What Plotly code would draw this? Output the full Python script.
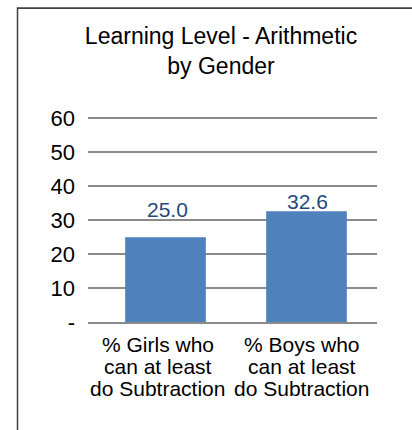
import plotly.graph_objects as go

# ---- data ----
categories = ["% Girls who<br>can at least<br>do Subtraction",
              "% Boys who<br>can at least<br>do Subtraction"]
values = [25.0, 32.6]
y_tick_vals = [0, 10, 20, 30, 40, 50, 60]
y_tick_text = ["-", "10", "20", "30", "40", "50", "60"]
title_text = "Learning Level - Arithmetic<br>by Gender"

# ---- style ----
FONT = "Liberation Sans, Arial, sans-serif"
BAR_COLOR = "#4F81BD"
LABEL_COLOR = "#1F497D"
GRID_COLOR = "#8A8A8A"
BORDER_COLOR = "#404040"
label_shifts = [28, 10]     # vertical offset (px) of each value label above its bar
label_xshifts = [2, 1]      # horizontal nudge of value labels
cat_xshifts = [-8, -5]      # horizontal nudge of category labels

fig = go.Figure()
fig.add_trace(go.Bar(
    x=categories, y=values,
    marker=dict(color=BAR_COLOR, line=dict(width=0)),
    hoverinfo="skip",
))

annotations = []
# value labels
for c, v, s, xs in zip(categories, values, label_shifts, label_xshifts):
    annotations.append(dict(
        x=c, y=v, xref="x", yref="y", text=f"{v:.1f}", showarrow=False,
        yanchor="middle", yshift=s, xshift=xs,
        font=dict(family=FONT, size=21, color=LABEL_COLOR)))
# category labels, one annotation per line for tight line spacing
for c, xs in zip(categories, cat_xshifts):
    for i, line in enumerate(c.split("<br>")):
        annotations.append(dict(
            x=c, y=0, xref="x", yref="paper", text=line, showarrow=False,
            yanchor="middle", yshift=-22 - 22 * i, xshift=xs,
            font=dict(family=FONT, size=21, color="#000000")))

fig.update_layout(
    width=412, height=430,
    margin=dict(l=88, r=35, t=117, b=108),
    paper_bgcolor="white", plot_bgcolor="white",
    showlegend=False,
    bargap=0.428,
    title=dict(text=title_text, x=221 / 412, xanchor="center",
               xref="container", yref="container", y=1 - 44 / 430, yanchor="top",
               font=dict(family=FONT, size=23, color="#000000")),
    font=dict(family=FONT, size=22, color="#000000"),
    annotations=annotations,
    shapes=[
        # chart-area border (left and top edges; the rest lies outside the view)
        dict(type="path", xref="paper", yref="paper", layer="above",
             path="M -0.2439,-0.6 L -0.2439,1.5317 L 1.2,1.5317",
             line=dict(color=BORDER_COLOR, width=1.5)),
    ],
)
fig.update_xaxes(showticklabels=False, showgrid=False, zeroline=False,
                 showline=True, linecolor=GRID_COLOR, linewidth=2, ticks="")
fig.update_yaxes(range=[0, 60.4], tickvals=y_tick_vals, ticktext=y_tick_text,
                 showgrid=True, gridcolor=GRID_COLOR, gridwidth=1.5,
                 zeroline=False, showline=False, ticks="",
                 ticklabelstandoff=12,
                 tickfont=dict(family=FONT, size=22, color="#000000"))

post = (
    "document.body.style.margin='0';document.body.style.padding='0';"
    "var b=document.createElement('div');"
    "b.style.cssText='position:absolute;left:17px;top:8px;width:600px;height:600px;"
    "border-top:1px solid #404040;border-left:1px solid #404040;pointer-events:none;';"
    "document.body.appendChild(b);"
)
fig.write_html("out.html", config={"displayModeBar": False}, post_script=post)
